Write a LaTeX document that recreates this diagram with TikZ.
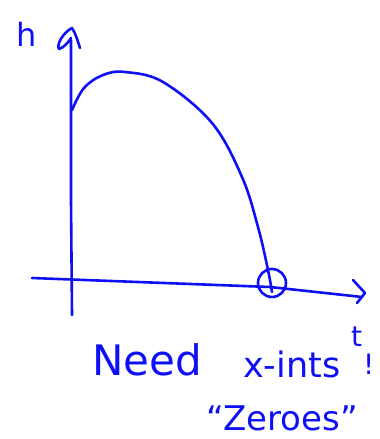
\documentclass[tikz,border=0pt]{standalone}
\usepackage{fontspec}
\setmainfont{DejaVu Sans}
\definecolor{pen}{RGB}{15,15,245}
\begin{document}
\begin{tikzpicture}[x=1pt,y=-1pt,
  ink/.style={draw=pen,line width=2.6pt,line cap=round,line join=round},
  hand/.style={text=pen,inner sep=0pt,anchor=base west}]
\useasboundingbox (0,0) rectangle (380,439);
% vertical axis
\coordinate (ybot) at (72,315);
\coordinate (ytop) at (71,40);
\draw[ink] (ybot) -- (71,200) -- (ytop);
\draw[ink] (59,49) .. controls (56,44) and (64,32) .. (72,28) .. controls (76,34) and (78,42) .. (80,48);
\draw[ink] (59,49) .. controls (64,48) and (70,40) .. (71,38);
% horizontal axis
\coordinate (xl) at (32,278);
\coordinate (xr) at (362,297);
\draw[ink] (xl) -- (270,287) -- (xr);
\draw[ink] (353,280) -- (365,293) -- (357,303);
% curve
\draw[ink] plot[smooth,tension=0.6] coordinates {(72,110) (84,88) (103,75) (125,72) (163,82) (212,123) (242,177) (258,227) (268,270) (272,292)};
% circle at zero
\draw[ink] (272,283) ellipse (14 and 14);
% labels
\node[hand,font=\fontsize{32}{32}\selectfont] (h) at (16,46) {h};
\node[hand,font=\fontsize{28}{28}\selectfont] (t) at (351,346) {t};
\node[hand,font=\fontsize{42}{42}\selectfont] (need) at (92,375) {Need};
\node[hand,font=\fontsize{35}{35}\selectfont] (xints) at (243,377) {x-ints};
\node[hand,font=\fontsize{28}{28}\selectfont] (bang) at (363,374) {!};
\node[hand,font=\fontsize{34}{34}\selectfont] (zeroes) at (206,430) {“Zeroes”};
\end{tikzpicture}
\end{document}
